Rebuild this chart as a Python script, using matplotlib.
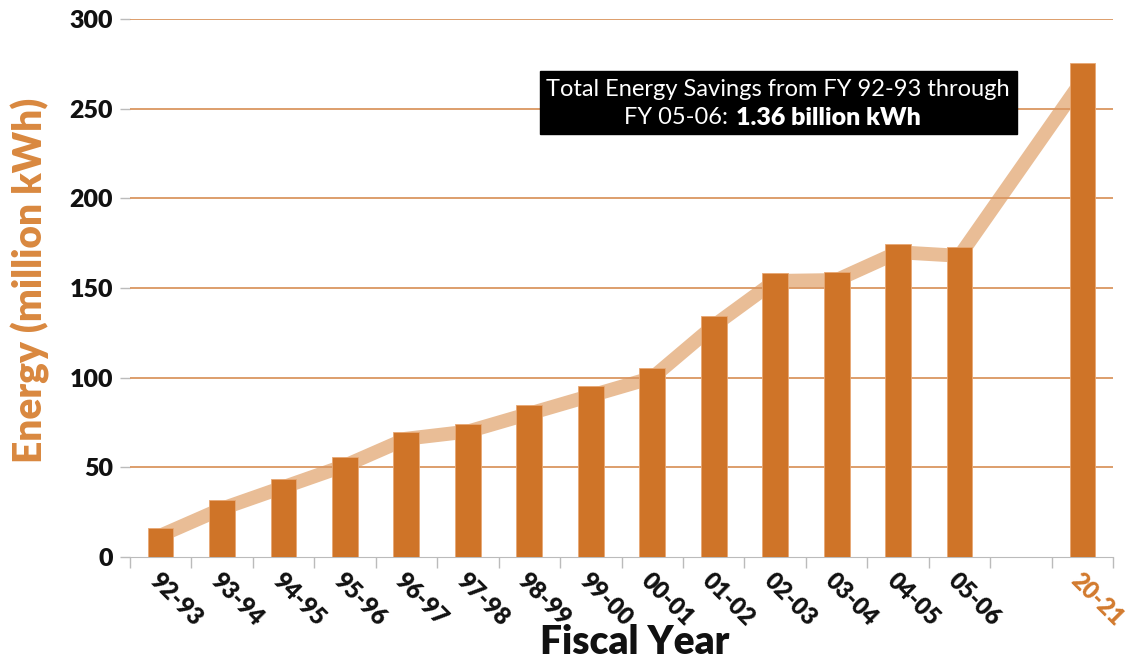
import matplotlib.pyplot as plt
import numpy as np
from matplotlib.patches import Rectangle

# fiscal years and savings (million kWh)
years = ["92-93", "93-94", "94-95", "95-96", "96-97", "97-98", "98-99",
         "99-00", "00-01", "01-02", "02-03", "03-04", "04-05", "05-06", "20-21"]
savings = [16, 32, 43.5, 56, 70, 74, 85, 95.5, 105.5, 134.5, 158.5, 159, 174.5, 173, 275.5]
trend = [12, 27, 39, 51, 66, 70, 80, 90, 100, 129, 154, 154.5, 170, 168, 266]
positions = [0, 1, 2, 3, 4, 5, 6, 7, 8, 9, 10, 11, 12, 13, 15]

bar_color = "#CF7428"
line_color = "#E9BD96"
grid_color = "#DA9660"

plt.rcParams['font.family'] = ['Lato', 'DejaVu Sans']

fig = plt.figure(figsize=(11.29, 6.6), dpi=100)
ax = fig.add_axes([0.115, 0.156, 0.871, 0.815])

ax.plot(positions, trend, color=line_color, lw=10, solid_joinstyle='miter', zorder=1)
ax.bar(positions, savings, width=0.42, color=bar_color, edgecolor="#E8A874", lw=0.6, zorder=3)

ax.set_ylim(0, 300)
ax.set_xlim(-0.5, 15.5)
ax.set_yticks(np.arange(0, 301, 50))
ax.set_yticklabels([str(v) for v in range(0, 301, 50)], fontsize=18, fontweight='heavy', color='#111111')
for v in range(50, 301, 50):
    ax.axhline(v, color=grid_color, lw=1.3, zorder=2)

ax.set_xticks(positions)
ax.set_xticklabels(years, rotation=-45, ha='left', va='top', rotation_mode='anchor',
                   fontsize=17, fontweight='heavy', color='#111111')
ax.get_xticklabels()[-1].set_color("#D27A2E")
ax.tick_params(axis='x', which='major', length=0, pad=9)
ax.set_xticks(np.arange(-0.5, 16, 1), minor=True)
ax.tick_params(axis='x', which='minor', length=8, color='#BBBBBB', width=1)
ax.tick_params(axis='y', length=7, color='#BBBBBB', width=1, pad=5)

for s in ['top', 'right', 'left']:
    ax.spines[s].set_visible(False)
ax.spines['bottom'].set_color('#BBBBBB')

fig.text(635 / 1129, 1 - 643 / 660, "Fiscal Year", ha='center', va='center',
         fontsize=28, fontweight='heavy', color='#111111')
fig.text(0.027, 0.575, "Energy (million kWh)", rotation=90, ha='center', va='center',
         fontsize=28, fontweight='heavy', color="#D9883F")

# annotation box
fig.patches.append(Rectangle((540 / 1129, 1 - 134 / 660), 477 / 1129, 63 / 660,
                             transform=fig.transFigure, color='black', zorder=5))
fig.text(778 / 1129, 1 - 89 / 660, "Total Energy Savings from FY 92-93 through",
         ha='center', va='center', fontsize=17, color='white', zorder=6)
fig.text(734 / 1129, 1 - 118 / 660, "FY 05-06: ", ha='right', va='center',
         fontsize=17, color='white', zorder=6)
fig.text(736 / 1129, 1 - 118 / 660, "1.36 billion kWh", ha='left', va='center',
         fontsize=18, color='white', fontweight='heavy', zorder=6)

plt.savefig("out.png", dpi=100)
